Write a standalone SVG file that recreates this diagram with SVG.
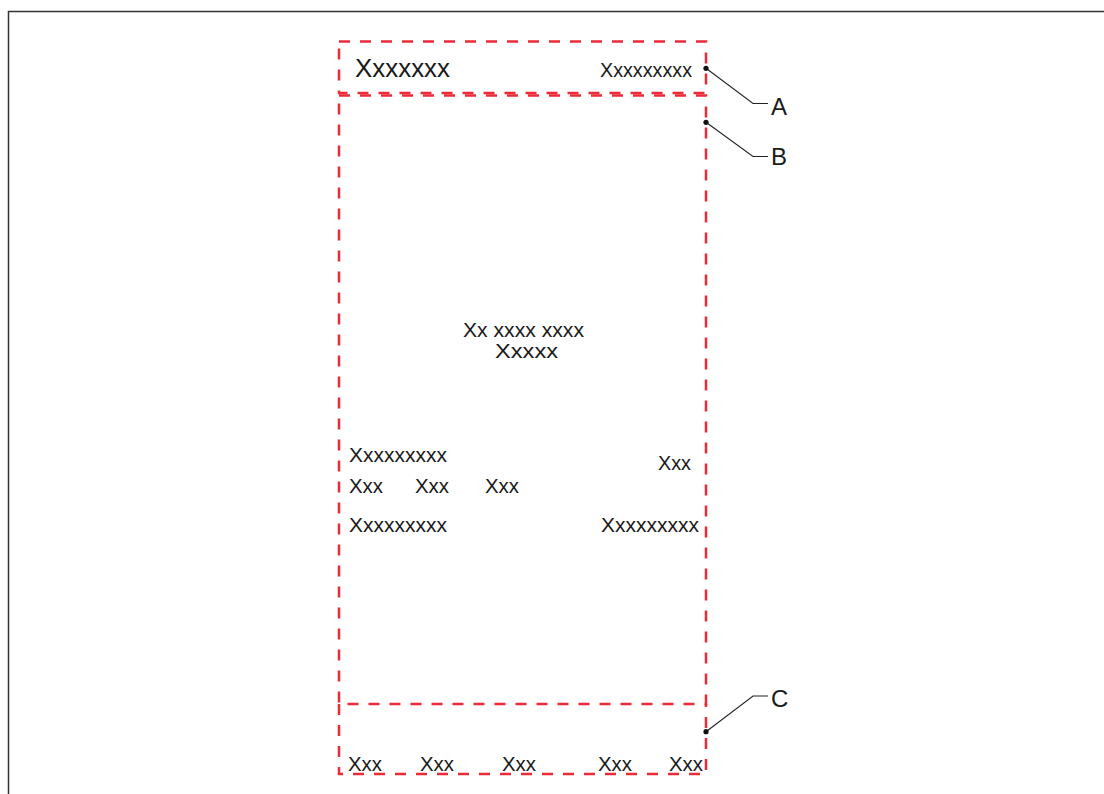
<svg xmlns="http://www.w3.org/2000/svg" width="1104" height="794" viewBox="0 0 1104 794">
  <style>
    .zone { fill: none; stroke: #ec2b38; stroke-width: 2.5; stroke-dasharray: 11 10; }
    .t { font-family: "Liberation Sans", Arial, sans-serif; fill: #1a1a1a; font-size: 20px; }
    .big { font-size: 25px; }
    .lbl { font-family: "Liberation Sans", Arial, sans-serif; fill: #1a1a1a; font-size: 24px; }
    .leader { fill: none; stroke: #222; stroke-width: 1.1; }
    .dot { fill: #111; }
  </style>

  <!-- sheet frame -->
  <rect x="8.5" y="11.5" width="1110" height="800" fill="#fff" stroke="#333" stroke-width="1.5"/>

  <!-- header zone -->
  <g id="zone-a">
    <rect class="zone" x="339" y="41.5" width="367" height="51.5"/>
    <text class="t big" x="355" y="77" textLength="95" lengthAdjust="spacingAndGlyphs">Xxxxxxx</text>
    <text class="t" x="600" y="77" textLength="92" lengthAdjust="spacingAndGlyphs">Xxxxxxxxx</text>
  </g>

  <!-- main zone -->
  <g id="zone-b">
    <rect class="zone" x="339" y="95.5" width="367" height="608.5"/>
    <text class="t" x="463" y="336.5" textLength="121" lengthAdjust="spacingAndGlyphs">Xx xxxx xxxx</text>
    <text class="t" x="495" y="358" textLength="63" lengthAdjust="spacingAndGlyphs">Xxxxx</text>
    <text class="t" x="349" y="462" textLength="98" lengthAdjust="spacingAndGlyphs">Xxxxxxxxx</text>
    <text class="t" x="349" y="493" textLength="34" lengthAdjust="spacingAndGlyphs">Xxx</text>
    <text class="t" x="415" y="493" textLength="34" lengthAdjust="spacingAndGlyphs">Xxx</text>
    <text class="t" x="485" y="493" textLength="34" lengthAdjust="spacingAndGlyphs">Xxx</text>
    <text class="t" x="349" y="532" textLength="98" lengthAdjust="spacingAndGlyphs">Xxxxxxxxx</text>
    <text class="t" x="658" y="470" textLength="33" lengthAdjust="spacingAndGlyphs">Xxx</text>
    <text class="t" x="601" y="532" textLength="98" lengthAdjust="spacingAndGlyphs">Xxxxxxxxx</text>
  </g>

  <!-- footer zone: its top edge is the main zone's bottom edge -->
  <g id="zone-c">
    <path class="zone" d="M339,704 V774 H706 V704"/>
    <text class="t" x="348" y="770.5" textLength="34" lengthAdjust="spacingAndGlyphs">Xxx</text>
    <text class="t" x="420" y="770.5" textLength="34" lengthAdjust="spacingAndGlyphs">Xxx</text>
    <text class="t" x="502" y="770.5" textLength="34" lengthAdjust="spacingAndGlyphs">Xxx</text>
    <text class="t" x="598" y="770.5" textLength="34" lengthAdjust="spacingAndGlyphs">Xxx</text>
    <text class="t" x="669" y="770.5" textLength="34" lengthAdjust="spacingAndGlyphs">Xxx</text>
  </g>

  <!-- callout leaders -->
  <g id="leaders">
    <polyline class="leader" points="706,68.3 753,103.5 768,103.5"/>
    <circle class="dot" cx="706" cy="68.3" r="2.6"/>
    <polyline class="leader" points="706,122.3 753,156.5 768,156.5"/>
    <circle class="dot" cx="706" cy="122.3" r="2.6"/>
    <polyline class="leader" points="706,731.7 753,696 768,696"/>
    <circle class="dot" cx="706" cy="731.7" r="2.6"/>
  </g>

  <g id="label-a"><text class="lbl" x="771" y="114.5">A</text></g>
  <g id="label-b"><text class="lbl" x="771" y="165">B</text></g>
  <g id="label-c"><text class="lbl" x="771" y="706.5">C</text></g>
</svg>
